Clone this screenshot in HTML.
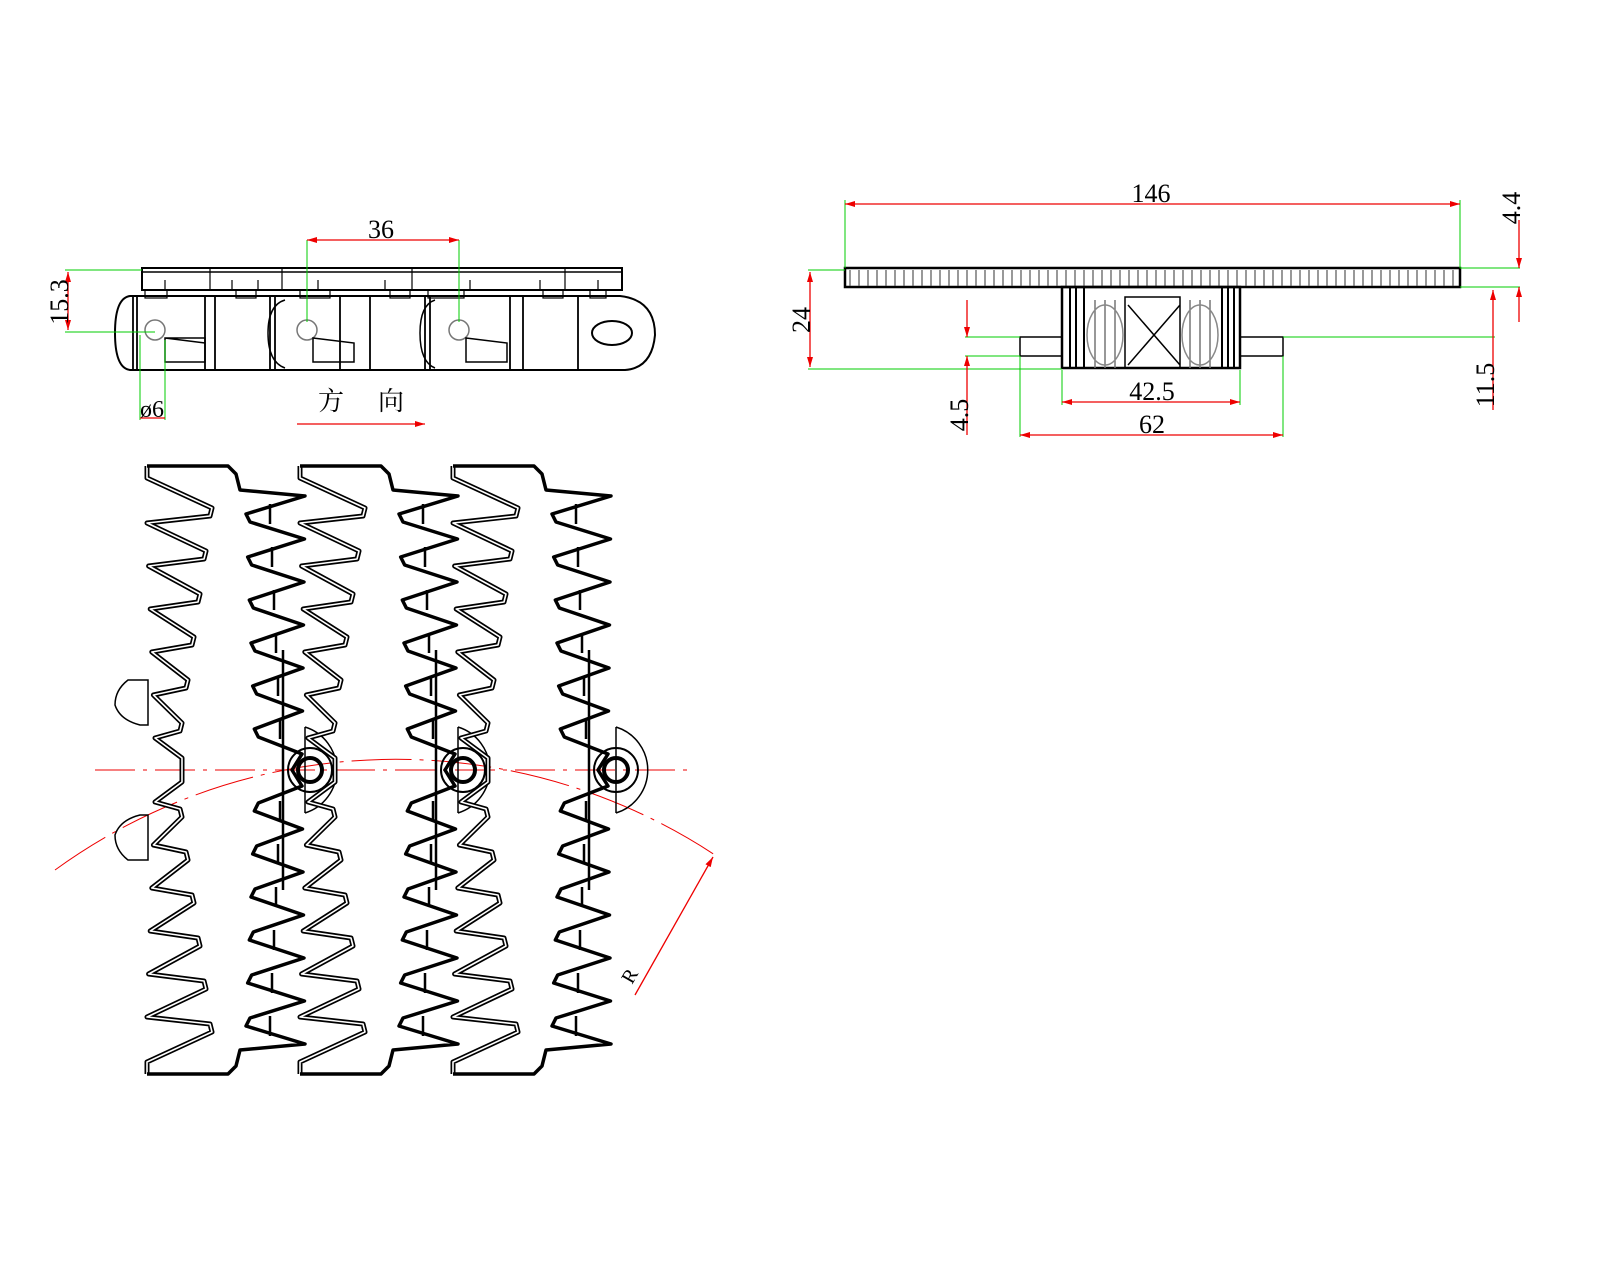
<!DOCTYPE html>
<html><head><meta charset="utf-8">
<style>html,body{margin:0;padding:0;background:#fff}svg{display:block}</style>
</head><body>
<svg id="s" width="1600" height="1280" viewBox="0 0 1600 1280" xmlns="http://www.w3.org/2000/svg" font-family="'Liberation Serif','Noto Serif CJK SC',serif">
<defs>
<marker id="a" viewBox="0 0 10 6" refX="10" refY="3" markerWidth="14" markerHeight="6" orient="auto-start-reverse" markerUnits="userSpaceOnUse"><path d="M0,0L10,3L0,6z" fill="#e00"/></marker>
</defs>
<g id="top" fill="none" stroke="#000" stroke-width="1.5">
<rect x="142" y="268" width="480" height="22" stroke-width="2"/>
<line x1="142" y1="272" x2="622" y2="272"/>
<g stroke-width="1.2">
<path d="M165,290v-10M210,290v-22M232,290v-10M258,290v-10M282,290v-22M318,290v-10M385,290v-10M412,290v-22M470,290v-10M540,290v-10M565,290v-22M598,290v-10"/>
<rect x="145" y="290" width="22" height="8"/><rect x="236" y="290" width="20" height="8"/><rect x="300" y="290" width="30" height="8"/><rect x="390" y="290" width="20" height="8"/><rect x="428" y="290" width="36" height="8"/><rect x="543" y="290" width="20" height="8"/><rect x="590" y="290" width="16" height="8"/>
</g>
<path d="M130,296 H620 Q655,300 655,335 Q652,368 625,370 H130 Q115,368 115,333 Q115,298 130,296Z" stroke-width="2"/>
<path d="M133,296V370M137,296V370M205,296V370M215,296V370M270,296V370M275,296V370M340,296V370M370,296V370M425,296V370M430,296V370M510,296V370M523,296V370M578,296V370" stroke-width="1.8"/>
<path d="M285,300Q268,305 268,333Q268,362 285,368M435,300Q420,305 420,333Q420,362 435,368" stroke-width="1.5"/>
<circle cx="155" cy="330" r="10" stroke="#777"/><circle cx="307" cy="330" r="10" stroke="#777"/><circle cx="459" cy="330" r="10" stroke="#777"/>
<path d="M165,338H205V362H165Z M165,338 L205,343" stroke-width="1.5"/>
<path d="M313,338L354,343V362H313Z" stroke-width="1.5"/>
<path d="M466,338L507,343V362H466Z" stroke-width="1.5"/>
<ellipse cx="612" cy="333" rx="20" ry="12" stroke-width="2"/>
<rect x="845" y="268" width="615" height="19" stroke-width="2.5"/>
<path id="ticks" stroke="#555" stroke-width="1.2" d=""/>
<rect x="1062" y="287" width="178" height="81" stroke-width="2.5"/>
<path d="M1070,287V368M1076,287V368M1084,287V368M1222,287V368M1228,287V368M1234,287V368" stroke-width="2"/>
<path d="M1125,297H1180V368H1125Z M1128,305L1180,365M1180,305L1128,365" stroke-width="1.5"/>
<path d="M1095,300V368M1105,300V368M1115,300V368M1190,300V368M1200,300V368M1210,300V368" stroke="#777" stroke-width="1.5"/>
<ellipse cx="1105" cy="335" rx="18" ry="30" stroke="#888"/><ellipse cx="1200" cy="335" rx="18" ry="30" stroke="#888"/>
<rect x="1020" y="337" width="42" height="19" stroke-width="1.5"/><rect x="1240" y="337" width="43" height="19" stroke-width="1.5"/>
</g>
<g stroke="#0c0" stroke-width="1" fill="none">
<path d="M65,270H142M65,332H155M140,335V420M165,340V420M307,240V322M459,240V322"/>
<path d="M845,200V268M1460,200V268M808,270H845M1460,268H1520M1460,287H1520M808,369H1062M965,337H1020M965,356H1020M1283,337H1495M1062,370V405M1240,370V405M1020,356V437M1283,356V437"/>
</g>
<g stroke="#e00" stroke-width="1.3" fill="none">
<line x1="307" y1="240" x2="459" y2="240" marker-start="url(#a)" marker-end="url(#a)"/>
<line x1="68" y1="272" x2="68" y2="330" marker-start="url(#a)" marker-end="url(#a)"/>
<line x1="140" y1="418" x2="165" y2="418"/>
<line x1="297" y1="424" x2="425" y2="424" marker-end="url(#a)"/>
<line x1="845" y1="204" x2="1460" y2="204" marker-start="url(#a)" marker-end="url(#a)"/>
<line x1="810" y1="272" x2="810" y2="367" marker-start="url(#a)" marker-end="url(#a)"/>
<line x1="1062" y1="402" x2="1240" y2="402" marker-start="url(#a)" marker-end="url(#a)"/>
<line x1="1020" y1="435" x2="1283" y2="435" marker-start="url(#a)" marker-end="url(#a)"/>
<line x1="967" y1="300" x2="967" y2="337" marker-end="url(#a)"/>
<line x1="967" y1="435" x2="967" y2="356" marker-end="url(#a)"/>
<line x1="1493" y1="290" x2="1493" y2="337" marker-start="url(#a)"/>
<line x1="1493" y1="337" x2="1493" y2="410"/>
<line x1="1519" y1="220" x2="1519" y2="268" marker-end="url(#a)"/>
<line x1="1519" y1="322" x2="1519" y2="287" marker-end="url(#a)"/>
<line x1="95" y1="770" x2="695" y2="770" stroke-dasharray="40,8,4,8" stroke-width="1"/>
<path d="M55,870 A580,580 0 0 1 715,855" stroke-dasharray="60,8,4,8" stroke-width="1"/>
<line x1="635" y1="995" x2="713" y2="857" marker-end="url(#a)"/>
</g>
<g font-size="26" fill="#000">
<text x="381" y="238" text-anchor="middle">36</text>
<text x="1151" y="202" text-anchor="middle">146</text>
<text x="1152" y="400" text-anchor="middle">42.5</text>
<text x="1152" y="433" text-anchor="middle">62</text>
<text x="140" y="417" font-size="24">ø6</text>
<text x="318" y="410" font-size="26" font-family="'Noto Serif CJK SC',serif">方</text>
<text x="378" y="410" font-size="26" font-family="'Noto Serif CJK SC',serif">向</text>
<text transform="translate(68,302) rotate(-90)" text-anchor="middle">15.3</text>
<text transform="translate(810,320) rotate(-90)" text-anchor="middle">24</text>
<text transform="translate(968,415) rotate(-90)" text-anchor="middle">4.5</text>
<text transform="translate(1494,385) rotate(-90)" text-anchor="middle">11.5</text>
<text transform="translate(1520,208) rotate(-90)" text-anchor="middle">4.4</text>
<text transform="translate(632,985) rotate(-60)" font-size="20">R</text>
</g>
<g id="links"></g>
</svg>
<script>
(function(){
var NS="http://www.w3.org/2000/svg";
var t="";for(var x=850;x<1458;x+=9){t+="M"+x+",270V286";}
document.getElementById("ticks").setAttribute("d",t);
var g=document.getElementById("links");
function lerp(a,b,f){return a+(b-a)*f;}
function mir(p){return [p[0],1540-p[1]];}
function link(ox,last){
  var up=[],i,f;
  up.push([147,466]);up.push([228,466]);up.push([236,474]);up.push([240,490]);
  for(i=0;i<6;i++){f=i/6;var yt=496+i*43;
    up.push([lerp(305,302,f),yt]);up.push([lerp(246,256,f),yt+18]);up.push([lerp(250,260,f),yt+26]);}
  up.push([302,754]);up.push([292,770]);
  var down=up.map(mir).reverse();
  var rp=up.concat(down.slice(1));
  var lp=[[147,466],[147,478]];
  for(i=0;i<6;i++){f=i/5;var yv=480+i*43;
    lp.push([lerp(212,182,f),yv+28]);lp.push([lerp(210,180,f),yv+36]);lp.push([lerp(147,155,f),yv+43]);}
  lp.push([182,758]);lp.push([182,770]);
  var ld=lp.map(mir).reverse();lp=lp.concat(ld.slice(1));
  function ps(a){return "M"+a.map(function(p){return (p[0]+ox)+","+p[1];}).join("L");}
  var e;
  [[5,"#000"],[1.6,"#fff"]].forEach(function(s){
    e=document.createElementNS(NS,"path");e.setAttribute("d",ps(lp));e.setAttribute("fill","none");
    e.setAttribute("stroke",s[1]);e.setAttribute("stroke-width",s[0]);e.setAttribute("stroke-linejoin","round");g.appendChild(e);});
  e=document.createElementNS(NS,"path");e.setAttribute("d",ps(rp));e.setAttribute("fill","none");
  e.setAttribute("stroke","#000");e.setAttribute("stroke-width",3.5);e.setAttribute("stroke-linejoin","round");g.appendChild(e);
  e=document.createElementNS(NS,"path");
  var d="M"+(ox+283)+",650V890";
  for(i=0;i<6;i++){var y=500+i*43;d+="M"+(ox+270+i*2)+","+(y+4)+"v20M"+(ox+270+i*2)+","+(1540-y-4)+"v-20";}
  e.setAttribute("d",d);e.setAttribute("stroke","#000");e.setAttribute("stroke-width",2.5);g.appendChild(e);
  e=document.createElementNS(NS,"path");
  var cx=ox+(last?310:305);
  d="M"+cx+",727A45,45 0 0 1 "+cx+",813M"+cx+",727V813";
  e.setAttribute("d",d);e.setAttribute("fill","none");e.setAttribute("stroke","#000");e.setAttribute("stroke-width",1.5);g.appendChild(e);
  [12,22].forEach(function(r){var c=document.createElementNS(NS,"circle");c.setAttribute("cx",ox+310);c.setAttribute("cy",770);c.setAttribute("r",r);
    c.setAttribute("fill","none");c.setAttribute("stroke","#000");c.setAttribute("stroke-width",r==12?4:2);g.appendChild(c);});
}
link(0);link(153);link(306,true);
var e=document.createElementNS(NS,"path");
e.setAttribute("d","M148,680H128Q115,690 115,705Q120,720 140,725H148ZM148,860H128Q115,850 115,835Q120,820 140,815H148Z");
e.setAttribute("fill","none");e.setAttribute("stroke","#000");e.setAttribute("stroke-width",1.5);g.appendChild(e);
})();
</script>
</body></html>
